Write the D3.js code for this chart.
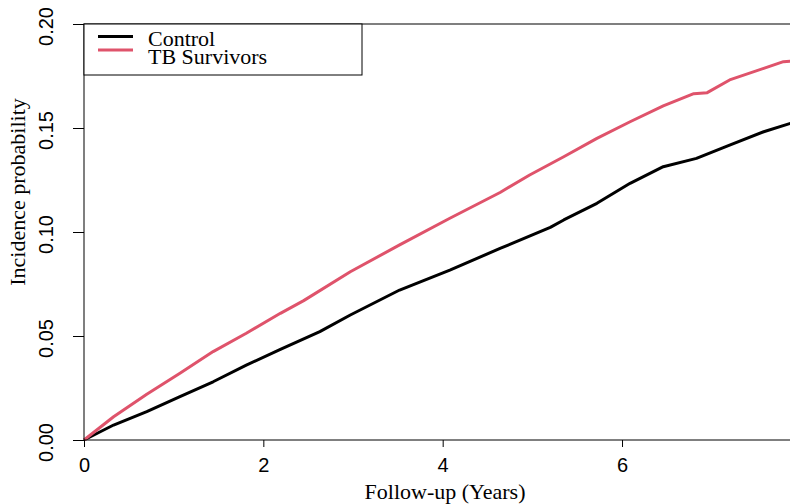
<!DOCTYPE html>
<meta charset="utf-8">
<style>
  body { margin: 0; background: #fff; }
  svg { display: block; }
</style>
<script type="text/javascript" src="https://cdn.jsdelivr.net/npm/d3@7/dist/d3.min.js"></script>
<svg></svg>

<script>
// follow-up time (years) and cumulative incidence
var control_time = [0, 0.33, 0.70, 1.07, 1.44, 1.81, 2.19, 2.63, 2.97, 3.52, 4.08, 4.64, 5.20, 5.35, 5.72, 6.09, 6.46, 6.83, 7.20, 7.58, 7.90];
var control_prob = [0, 0.0072, 0.0136, 0.0208, 0.0280, 0.0360, 0.0436, 0.0521, 0.0601, 0.0721, 0.0817, 0.0921, 0.1022, 0.1058, 0.1138, 0.1234, 0.1314, 0.1354, 0.1418, 0.1482, 0.1525];

var tb_time = [0, 0.33, 0.70, 1.07, 1.44, 1.81, 2.19, 2.45, 2.97, 3.52, 4.08, 4.64, 4.97, 5.35, 5.72, 6.09, 6.46, 6.80, 6.95, 7.20, 7.58, 7.80, 7.90];
var tb_prob = [0, 0.0112, 0.0220, 0.0321, 0.0425, 0.0513, 0.0609, 0.0670, 0.0809, 0.0938, 0.1066, 0.1190, 0.1274, 0.1362, 0.1450, 0.1530, 0.1606, 0.1665, 0.1670, 0.1731, 0.1787, 0.1819, 0.1822];

var series_names = ["Control", "TB Survivors"];
var series_colors = ["#000000", "#DF536B"];

var x_ticks = [0, 2, 4, 6];
var y_ticks = [0, 0.05, 0.10, 0.15, 0.20];

var WIDTH = 790,
    HEIGHT = 504;

var LEFT = 84, TOP = 24, BOTTOM = 440;

var svg = d3.select("svg")
            .attr("width", WIDTH)
            .attr("height", HEIGHT);

var x = d3.scaleLinear().domain([0, 8]).range([LEFT, LEFT + 8 * 89.67]);
var y = d3.scaleLinear().domain([0, 0.20]).range([BOTTOM, TOP]);

function zip(t, p){
    return t.map(function(d, i){ return [d, p[i]]; });
}
var series = [zip(control_time, control_prob), zip(tb_time, tb_prob)];

var SANS = "'Liberation Sans', Arial, sans-serif",
    SERIF = "'Liberation Serif', 'Times New Roman', serif";

// curves
var line = d3.line()
             .x(function(d){ return x(d[0]); })
             .y(function(d){ return y(d[1]); });

svg.selectAll("path.curve")
   .data(series)
   .enter()
   .append("path")
   .attr("class", "curve")
   .attr("d", line)
   .attr("fill", "none")
   .attr("stroke", function(d, i){ return series_colors[i]; })
   .attr("stroke-width", 3)
   .attr("stroke-linejoin", "round");

// plot box (right side falls outside the picture)
svg.append("rect")
   .attr("x", LEFT)
   .attr("y", TOP)
   .attr("width", x(8) - LEFT)
   .attr("height", BOTTOM - TOP)
   .attr("fill", "none")
   .attr("stroke", "#000")
   .attr("stroke-width", 1);

// x axis
var xAxis = d3.axisBottom(x).tickValues(x_ticks).tickSize(7).tickFormat(d3.format("d"));
var gx = svg.append("g")
            .attr("transform", "translate(0," + BOTTOM + ")")
            .call(xAxis);
gx.select(".domain").remove();
gx.selectAll("text")
  .attr("font-family", SANS)
  .attr("font-size", 20)
  .attr("fill", "#000")
  .attr("dy", null)
  .attr("y", 32);

// y axis, labels rotated like base R
var yAxis = d3.axisLeft(y).tickValues(y_ticks).tickSize(11).tickFormat(d3.format(".2f"));
var gy = svg.append("g")
            .attr("transform", "translate(" + LEFT + ",0)")
            .call(yAxis);
gy.select(".domain").remove();
gy.selectAll(".tick text")
  .attr("font-family", SANS)
  .attr("font-size", 20)
  .attr("fill", "#000")
  .attr("x", null)
  .attr("dy", null)
  .attr("text-anchor", "middle")
  .attr("transform", "translate(-31,2) rotate(-90)");

// axis titles
svg.append("text")
   .attr("x", 445)
   .attr("y", 499)
   .attr("text-anchor", "middle")
   .attr("font-family", SERIF)
   .attr("font-size", 22)
   .text("Follow-up (Years)");

svg.append("text")
   .attr("transform", "translate(24.5,192) rotate(-90)")
   .attr("text-anchor", "middle")
   .attr("font-family", SERIF)
   .attr("font-size", 22)
   .text("Incidence probability");

// legend
var legend = svg.append("g");
legend.append("rect")
      .attr("x", LEFT)
      .attr("y", TOP)
      .attr("width", 278)
      .attr("height", 51)
      .attr("fill", "#fff")
      .attr("stroke", "#000")
      .attr("stroke-width", 1);

var items = legend.selectAll("g.item")
                  .data(series_names)
                  .enter()
                  .append("g")
                  .attr("class", "item");

items.append("line")
     .attr("x1", 98)
     .attr("x2", 133)
     .attr("y1", function(d, i){ return 36.5 + i * 13.5; })
     .attr("y2", function(d, i){ return 36.5 + i * 13.5; })
     .attr("stroke", function(d, i){ return series_colors[i]; })
     .attr("stroke-width", 3);

items.append("text")
     .attr("x", 148)
     .attr("y", function(d, i){ return 46 + i * 18; })
     .attr("font-family", SERIF)
     .attr("font-size", 22)
     .text(function(d){ return d; });
</script>
